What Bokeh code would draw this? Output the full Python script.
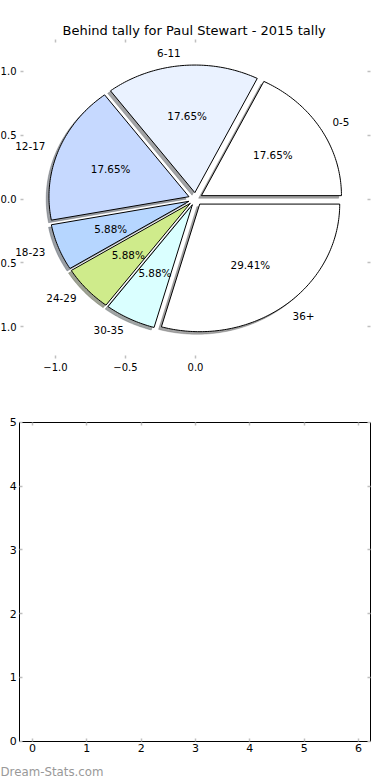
import numpy as np
from bokeh.plotting import figure
from bokeh.models import Range1d, FixedTicker, LinearAxis, Title
from bokeh.core.properties import value
from bokeh.layouts import column
from bokeh.embed import file_html
from bokeh.resources import INLINE

# ---------------- data ----------------
categories = ["0-5", "6-11", "12-17", "18-23", "24-29", "30-35", "36+"]
counts = [3, 3, 3, 1, 1, 1, 5]
colors = ["#FFFFFF", "#EAF2FF", "#C6D9FF", "#B6D6FF", "#CFEB8B", "#DAFFFF", "#FFFFFF"]
explode = [0.05, 0.05, 0.05, 0.05, 0.05, 0.05, 0.05]

pie_x_ticks = [-1.0, -0.5, 0.0]
pie_x_tick_labels = ["\u22121.0", "\u22120.5", "0.0"]
pie_y_ticks = [-1.0, -0.5, 0.0, 0.5, 1.0]
pie_y_tick_labels = ["\u22121.0", "\u22120.5", "0.0", "0.5", "1.0"]

bar_x_ticks = [0, 1, 2, 3, 4, 5, 6]
bar_y_ticks = [0, 1, 2, 3, 4, 5]

title_text = "Behind tally for Paul Stewart - 2015 tally"
watermark = "Dream-Stats.com"

FONT = "DejaVu Sans"
TICK_COLOR = "#c0c0c0"

# ---------------- pie geometry from data ----------------
total = float(sum(counts))
fracs = np.array(counts) / total
theta2 = np.cumsum(fracs) * 2 * np.pi
theta1 = theta2 - fracs * 2 * np.pi
mid = (theta1 + theta2) / 2
exp = np.array(explode)
cx = exp * np.cos(mid)
cy = exp * np.sin(mid)

xs, ys, sxs, sys_ = [], [], [], []
for i in range(len(counts)):
    n = max(int(np.degrees(theta2[i] - theta1[i])) + 2, 8)
    t = np.linspace(theta1[i], theta2[i], n)
    px = np.concatenate([[cx[i]], cx[i] + np.cos(t), [cx[i]]])
    py = np.concatenate([[cy[i]], cy[i] + np.sin(t), [cy[i]]])
    xs.append(list(px))
    ys.append(list(py))
    sxs.append(list(px - 0.02))
    sys_.append(list(py - 0.02))


def darker(hexcol, f=0.3):
    h = hexcol.lstrip("#")
    r, g, b = (int(h[k:k + 2], 16) for k in (0, 2, 4))
    return "#%02x%02x%02x" % (int(r * f), int(g * f), int(b * f))


shadow_colors = [darker(c) for c in colors]

pct_text = ["%.2f%%" % (100.0 * c / total) for c in counts]
pct_x = cx + 0.6 * np.cos(mid)
pct_y = cy + 0.6 * np.sin(mid)

lab_x = cx + 1.1 * np.cos(mid)
lab_y = cy + 1.1 * np.sin(mid)
right_idx = [i for i in range(len(counts)) if lab_x[i] > 0]
left_idx = [i for i in range(len(counts)) if lab_x[i] <= 0]


def labeled_axis(ticks, labels, font_size="10px", standoff=4, line_color=None, **kw):
    ax = LinearAxis(ticker=FixedTicker(ticks=ticks),
                    axis_line_color=line_color,
                    major_tick_in=3, major_tick_out=0,
                    major_tick_line_color=TICK_COLOR,
                    major_tick_line_width=1.5,
                    minor_tick_line_color=None,
                    major_label_text_font=FONT,
                    major_label_text_font_size=font_size,
                    major_label_text_color="black",
                    major_label_standoff=standoff, **kw)
    ax.major_label_overrides = {float(k): v for k, v in zip(ticks, labels)}
    return ax


def tick_only_axis(ticks, line_color=None, **kw):
    # ticks without labels: use minor ticks only
    ax = LinearAxis(ticker=FixedTicker(ticks=[], minor_ticks=ticks),
                    axis_line_color=line_color,
                    major_tick_line_color=None,
                    minor_tick_in=3, minor_tick_out=0,
                    minor_tick_line_color=TICK_COLOR,
                    minor_tick_line_width=1.5,
                    major_label_standoff=0, **kw)
    return ax


# ---------------- figure 1: pie ----------------
PIE_XPX = 140.0      # px per unit (x)
PIE_CX = 195.0       # pixel of x = 0
p1 = figure(width=390, height=380,
            x_range=Range1d(-PIE_CX / PIE_XPX, (370 - PIE_CX) / PIE_XPX),
            y_range=Range1d(-1.25, 1.25),
            x_axis_type=None, y_axis_type=None,
            output_backend="svg", toolbar_location=None,
            min_border_left=0, min_border_right=20,
            min_border_top=39, min_border_bottom=22)
p1.outline_line_color = None
p1.background_fill_color = "white"
p1.border_fill_color = "white"

p1.add_layout(labeled_axis(pie_x_ticks, pie_x_tick_labels), "below")
p1.add_layout(tick_only_axis(pie_x_ticks), "above")
p1.add_layout(labeled_axis(pie_y_ticks, pie_y_tick_labels,
                           fixed_location=-1.25), "left")
p1.add_layout(tick_only_axis(pie_y_ticks), "right")

p1.patches(sxs, sys_, fill_color=shadow_colors, fill_alpha=0.5,
           line_color=shadow_colors, line_alpha=0.3, line_width=1)
p1.patches(xs, ys, fill_color=colors, line_color="black", line_width=1)

p1.text(x=list(pct_x), y=list(pct_y), text=pct_text,
        text_align="center", text_baseline="middle",
        text_font=value(FONT), text_font_size="10.4px", text_color="black")

p1.text(x=[lab_x[i] for i in right_idx], y=[lab_y[i] for i in right_idx],
        text=[categories[i] for i in right_idx],
        text_align="left", text_baseline="middle",
        text_font=value(FONT), text_font_size="10.4px", text_color="black")
p1.text(x=[lab_x[i] for i in left_idx], y=[lab_y[i] for i in left_idx],
        text=[categories[i] for i in left_idx],
        text_align="right", text_baseline="middle",
        text_font=value(FONT), text_font_size="10.4px", text_color="black")

p1.add_layout(Title(text=title_text, align="left", offset=62,
                    text_font=FONT, text_font_size="13px",
                    text_font_style="normal", text_color="black",
                    standoff=4), "above")

# ---------------- figure 2: empty axes ----------------
B_XPX = (358 - 32) / 6.0       # px per unit (x)
B_X0 = 32.0                    # pixel of x = 0
b_left = (19.3 - B_X0) / B_XPX
b_right = (370 - B_X0) / B_XPX

B_YPX = (740.7 - 421.7) / 5.0  # px per unit (y)
FIG2_TOP = 380.0
F_TOP, F_BOT = 390.0, 760.0    # frame extent on the page
y_hi = 5 + (421.7 - F_TOP) / B_YPX
y_lo = -(F_BOT - 740.7) / B_YPX

p2 = figure(width=390, height=400,
            x_range=Range1d(-B_X0 / B_XPX, b_right),
            y_range=Range1d(y_lo, y_hi),
            x_axis_type=None, y_axis_type=None,
            output_backend="svg", toolbar_location=None,
            min_border_left=0, min_border_right=20,
            min_border_top=int(F_TOP - FIG2_TOP),
            min_border_bottom=int(FIG2_TOP + 400 - F_BOT))
p2.outline_line_color = None
p2.border_fill_color = "white"
p2.background_fill_color = "white"

p2.add_layout(labeled_axis(bar_x_ticks, [str(v) for v in bar_x_ticks],
                           font_size="11px", standoff=3, line_color="black",
                           bounds=(b_left, b_right), fixed_location=0), "below")
p2.add_layout(tick_only_axis(bar_x_ticks, line_color="black",
                             bounds=(b_left, b_right), fixed_location=5), "above")
p2.add_layout(labeled_axis(bar_y_ticks, [str(v) for v in bar_y_ticks],
                           font_size="11px", standoff=3, line_color="black",
                           bounds=(0, 5), fixed_location=b_left), "left")
p2.add_layout(tick_only_axis(bar_y_ticks, line_color="black",
                             bounds=(0, 5)), "right")

p2.add_layout(Title(text=watermark, align="left", offset=0,
                    text_font=FONT, text_font_size="11.8px",
                    text_font_style="normal", text_color="#999999",
                    standoff=4), "below")

layout = column(p1, p2)
open("out.html", "w").write(file_html(layout, INLINE))
